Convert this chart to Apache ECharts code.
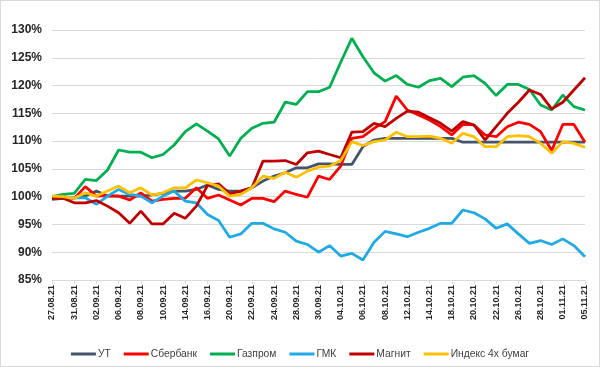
<!DOCTYPE html>
<html>
<head>
<meta charset="utf-8">
<script src="https://cdn.jsdelivr.net/npm/echarts@6/dist/echarts.min.js"></script>
<style>
html,body{margin:0;padding:0;background:#fff;}
#c{width:600px;height:367px;box-sizing:border-box;border:1px solid #d9d9d9;}
</style>
</head>
<body>
<div id="c"></div>
<script>
var dates = ['27.08.21','30.08.21','31.08.21','01.09.21','02.09.21','03.09.21','06.09.21','07.09.21','08.09.21','09.09.21',
'10.09.21','13.09.21','14.09.21','15.09.21','16.09.21','17.09.21','20.09.21','21.09.21','22.09.21','23.09.21',
'24.09.21','27.09.21','28.09.21','29.09.21','30.09.21','01.10.21','04.10.21','05.10.21','06.10.21','07.10.21',
'08.10.21','11.10.21','12.10.21','13.10.21','14.10.21','15.10.21','18.10.21','19.10.21','20.10.21','21.10.21',
'22.10.21','25.10.21','26.10.21','27.10.21','28.10.21','29.10.21','01.11.21','03.11.21','05.11.21'];

var ut = [99.5,99.7,99.8,100.1,101.0,100.1,100.1,100.1,100.1,100.3,
100.6,101.0,101.0,101.3,102.1,101.3,101.0,101.0,101.6,102.8,
103.7,104.3,105.2,105.2,105.9,105.9,105.8,105.8,109.0,110.2,
110.5,110.5,110.5,110.5,110.5,110.5,110.5,109.8,109.8,109.8,
109.8,109.8,109.8,109.8,109.8,109.8,109.8,109.8,109.8];

var sber = [100,100,99.7,101.8,100.1,100.2,100.1,99.4,100.7,99.2,
99.5,99.7,99.7,101.6,99.7,100.3,99.4,98.5,99.7,99.7,
99.1,101.0,100.4,99.9,103.7,103.1,105.5,110.5,110.8,112.3,
113.5,118.1,115.6,114.7,113.8,112.6,111.1,113.0,112.9,111.1,
110.8,112.6,113.4,113.0,111.7,108.3,113.0,113.0,109.8];

var gazprom = [100,100.4,100.6,103.1,102.9,104.8,108.4,108.0,108.0,107.0,
107.6,109.3,111.7,113.1,111.8,110.4,107.3,110.5,112.3,113.2,
113.4,117.0,116.6,118.9,118.9,119.7,124.2,128.5,125.2,122.3,
120.8,121.8,120.2,119.7,120.9,121.3,119.8,121.5,121.8,120.4,
118.2,120.2,120.2,119.3,116.5,115.6,118.3,116.2,115.6];

var gmk = [99.8,99.8,99.8,99.8,98.6,100.1,101.3,100.4,100.1,98.9,
100.1,101.0,99.2,98.9,96.8,95.7,92.7,93.3,95.2,95.2,
94.2,93.6,92.0,91.4,90.0,91.2,89.3,89.8,88.6,91.8,
93.75,93.3,92.8,93.6,94.3,95.2,95.2,97.6,97.1,96.0,
94.3,95.1,93.3,91.6,92.1,91.4,92.4,91.2,89.2];

var magnit = [99.7,99.7,98.9,98.9,99.3,98.3,97.1,95.2,97.4,95.1,
95.1,97.0,96.1,98.3,102.0,102.3,100.5,101.0,101.6,106.4,
106.4,106.5,105.8,107.9,108.2,107.6,107.0,111.6,111.7,113.2,
112.6,114.1,115.4,115.2,114.2,113.2,111.8,113.5,112.9,110.2,
112.6,115.0,117.0,119.2,118.4,115.8,117.0,119.2,121.4];

var index4 = [100.1,100.0,99.7,100.7,100.1,101.0,101.9,100.7,101.6,100.3,
100.7,101.6,101.6,103.0,102.5,101.9,100.1,100.4,101.6,103.7,
103.3,104.4,103.5,104.6,105.3,105.5,106.5,109.9,109.2,109.9,
110.2,111.6,110.8,110.8,110.9,110.5,109.6,111.4,110.8,109.0,
109.0,110.8,111.0,110.8,109.6,107.8,109.9,109.6,108.9];

var seriesNames = ['УТ','Сбербанк','Газпром','ГМК','Магнит','Индекс 4х бумаг'];
var seriesData = [ut, sber, gazprom, gmk, magnit, index4];
var colors = ['#44546A','#FF0000','#00B050','#1FAAE6','#C00000','#FFC000'];

var chart = echarts.init(document.getElementById('c'), null, {renderer:'canvas'});
chart.setOption({
  animation: false,
  color: colors,
  grid: {left: 51, right: 14, top: 29, bottom: 86, containLabel: false},
  legend: {
    data: seriesNames,
    left: 'center',
    top: 343,
    icon: 'rect',
    itemWidth: 25,
    itemHeight: 3,
    itemGap: 13,
    textStyle: {fontSize: 10.3, color: '#404040', fontFamily: 'Liberation Sans, Arial, sans-serif', padding: [0,0,0,-3]}
  },
  xAxis: {
    type: 'category',
    data: dates,
    boundaryGap: false,
    axisLine: {lineStyle: {color: '#d9d9d9'}},
    axisTick: {show: true, interval: 1, length: 4, lineStyle: {color: '#d9d9d9'}},
    axisLabel: {interval: 1, rotate: 90, fontSize: 9, fontWeight: 'bold', color: '#262626', margin: 5,
      fontFamily: 'Liberation Sans, Arial, sans-serif'},
    splitLine: {show: false}
  },
  yAxis: {
    type: 'value',
    min: 85, max: 130, interval: 5,
    axisLine: {show: false},
    axisTick: {show: false},
    axisLabel: {formatter: '{value}%', fontSize: 12, fontWeight: 'bold', color: '#262626', margin: 10,
      fontFamily: 'Liberation Sans, Arial, sans-serif'},
    splitLine: {lineStyle: {color: '#d9d9d9', width: 1}}
  },
  series: seriesNames.map(function(n, i){
    return {
      name: n, type: 'line', data: seriesData[i],
      symbol: 'none', smooth: false,
      lineStyle: {width: 2.75, color: colors[i]},
      itemStyle: {color: colors[i]}
    };
  })
});
</script>
</body>
</html>
